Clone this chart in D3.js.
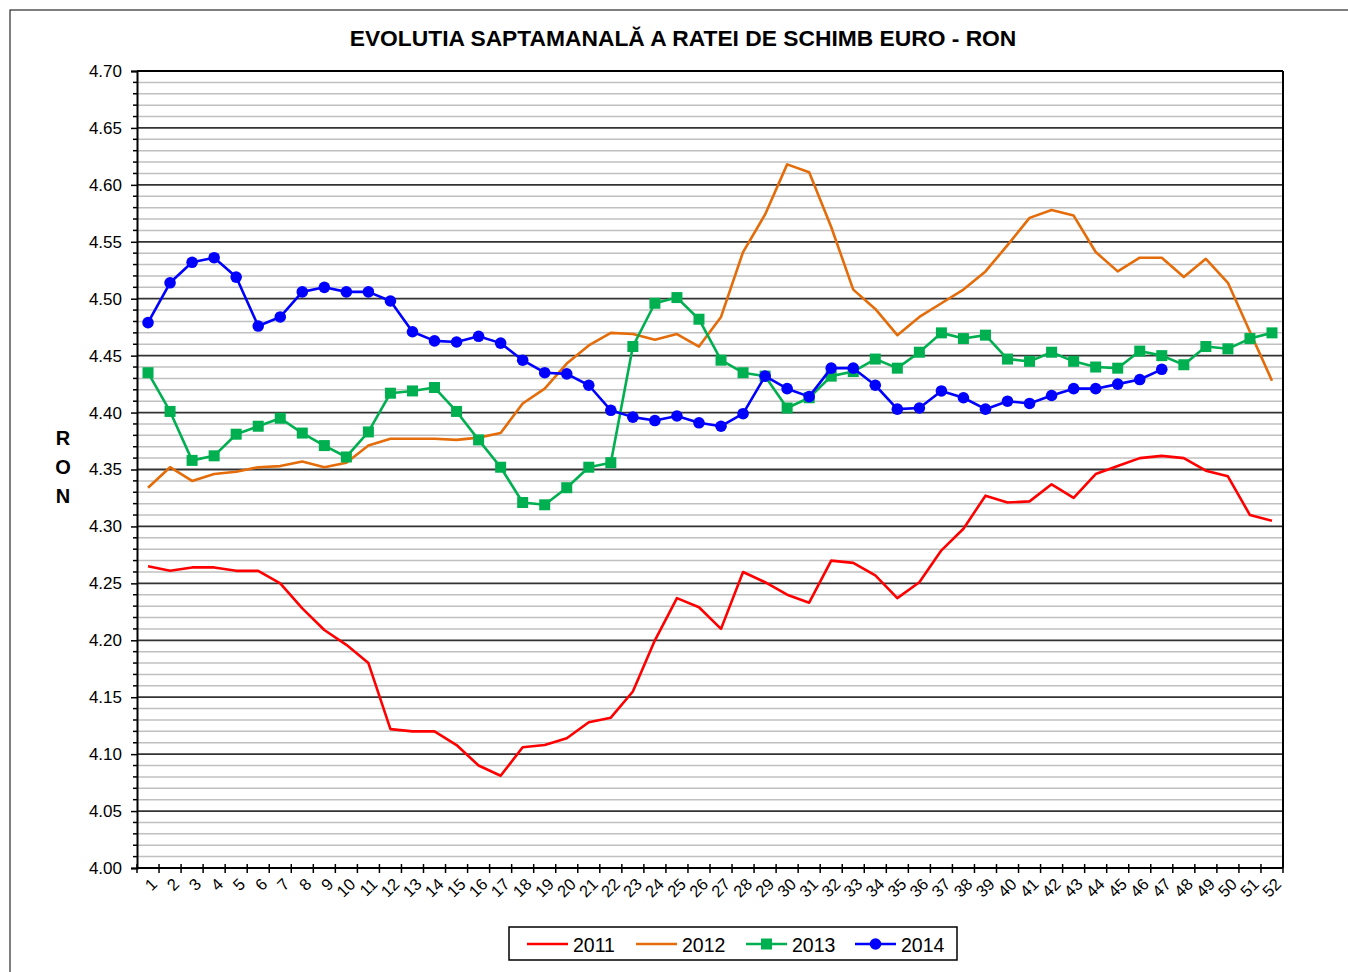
<!DOCTYPE html>
<html>
<head>
<meta charset="utf-8">
<title>Evolutia saptamanala EUR-RON</title>
<script src="https://d3js.org/d3.v7.min.js"></script>
<style>
  body { margin: 0; background: #fff; }
  text { font-family: "Liberation Sans", Arial, sans-serif; }
</style>
</head>
<body>
<svg width="1348" height="972"></svg>
<script>
// weeks 1..52
const weeks = d3.range(1, 53);

const y2011 = [4.265, 4.261, 4.264, 4.264, 4.261, 4.261, 4.250, 4.228, 4.209, 4.196,
  4.180, 4.122, 4.120, 4.120, 4.108, 4.090, 4.081, 4.106, 4.108, 4.114,
  4.128, 4.132, 4.155, 4.200, 4.237, 4.229, 4.210, 4.260, 4.251, 4.240,
  4.233, 4.270, 4.268, 4.257, 4.237, 4.251, 4.279, 4.298, 4.327, 4.321,
  4.322, 4.337, 4.325, 4.346, 4.353, 4.360, 4.362, 4.360, 4.349, 4.344,
  4.310, 4.305];

const y2012 = [4.334, 4.352, 4.340, 4.346, 4.348, 4.352, 4.353, 4.357, 4.352, 4.356,
  4.371, 4.377, 4.377, 4.377, 4.376, 4.378, 4.382, 4.408, 4.421, 4.443,
  4.459, 4.470, 4.469, 4.464, 4.469, 4.458, 4.484, 4.541, 4.574, 4.618,
  4.611, 4.563, 4.508, 4.491, 4.468, 4.484, 4.496, 4.508, 4.524, 4.547,
  4.571, 4.578, 4.573, 4.541, 4.524, 4.536, 4.536, 4.519, 4.535, 4.514,
  4.471, 4.428];

const y2013 = [4.435, 4.401, 4.358, 4.362, 4.381, 4.388, 4.395, 4.382, 4.371, 4.361,
  4.383, 4.417, 4.419, 4.422, 4.401, 4.376, 4.352, 4.321, 4.319, 4.334,
  4.352, 4.356, 4.458, 4.496, 4.501, 4.482, 4.446, 4.435, 4.432, 4.404,
  4.413, 4.432, 4.436, 4.447, 4.439, 4.453, 4.470, 4.465, 4.468, 4.447,
  4.445, 4.453, 4.445, 4.440, 4.439, 4.454, 4.450, 4.442, 4.458, 4.456,
  4.465, 4.470];

const y2014 = [4.479, 4.514, 4.532, 4.536, 4.519, 4.476, 4.484, 4.506, 4.510, 4.506,
  4.506, 4.498, 4.471, 4.463, 4.462, 4.467, 4.461, 4.446, 4.435, 4.434,
  4.424, 4.402, 4.396, 4.393, 4.397, 4.391, 4.388, 4.399, 4.432, 4.421,
  4.414, 4.439, 4.439, 4.424, 4.403, 4.404, 4.419, 4.413, 4.403, 4.410,
  4.408, 4.415, 4.421, 4.421, 4.425, 4.429, 4.438];

const yTicks = d3.range(0, 15).map(i => +(4 + i * 0.05).toFixed(2));

const series = [
  { name: "2011", values: y2011, color: "#ff0000", marker: null },
  { name: "2012", values: y2012, color: "#e46c0a", marker: null },
  { name: "2013", values: y2013, color: "#00b050", marker: "square" },
  { name: "2014", values: y2014, color: "#0000ff", marker: "circle" }
];

const svg = d3.select("svg");
const plotL = 137, plotR = 1283, plotT = 71, plotB = 868;

// outer chart border
svg.append("rect")
  .attr("x", 10).attr("y", 10).attr("width", 1400).attr("height", 1000)
  .attr("fill", "none").attr("stroke", "#000").attr("stroke-width", 1);

const x = d3.scaleBand().domain(weeks).range([plotL, plotR]);
const y = d3.scaleLinear().domain([4.0, 4.7]).range([plotB, plotT]);

// minor gridlines every 0.01
const minor = d3.range(1, 70).filter(i => i % 5 !== 0).map(i => 4 + i * 0.01);
svg.append("g").selectAll("line").data(minor).join("line")
  .attr("x1", plotL).attr("x2", plotR)
  .attr("y1", d => y(d)).attr("y2", d => y(d))
  .attr("stroke", "#c0c0c0").attr("stroke-width", 1.5);

// minor ticks on the y axis
svg.append("g").selectAll("line").data(minor).join("line")
  .attr("x1", plotL - 4).attr("x2", plotL)
  .attr("y1", d => y(d)).attr("y2", d => y(d))
  .attr("stroke", "#000").attr("stroke-width", 1.5);

// major gridlines
svg.append("g").selectAll("line").data(yTicks.slice(1)).join("line")
  .attr("x1", plotL).attr("x2", plotR)
  .attr("y1", d => y(d)).attr("y2", d => y(d))
  .attr("stroke", "#333").attr("stroke-width", 1.8);

// y axis
const yAxis = svg.append("g")
  .attr("transform", `translate(${plotL},0)`)
  .call(d3.axisLeft(y).tickValues(yTicks).tickFormat(d3.format(".2f")).tickSize(6).tickPadding(9));
yAxis.select(".domain").attr("stroke", "#000").attr("stroke-width", 2);
yAxis.selectAll(".tick line").attr("stroke", "#000").attr("stroke-width", 1.5);
yAxis.selectAll(".tick text").attr("font-size", 17).attr("fill", "#000")
  .attr("font-family", "Liberation Sans, Arial, sans-serif");

// plot frame top/right
svg.append("line").attr("x1", plotL).attr("x2", plotR).attr("y1", plotT).attr("y2", plotT)
  .attr("stroke", "#000").attr("stroke-width", 2);
svg.append("line").attr("x1", plotR).attr("x2", plotR).attr("y1", plotT).attr("y2", plotB)
  .attr("stroke", "#000").attr("stroke-width", 2);

// x axis
svg.append("line").attr("x1", plotL).attr("x2", plotR).attr("y1", plotB).attr("y2", plotB)
  .attr("stroke", "#000").attr("stroke-width", 2);
const bounds = weeks.map(w => x(w)).concat([plotR]);
svg.append("g").selectAll("line").data(bounds).join("line")
  .attr("x1", d => d).attr("x2", d => d)
  .attr("y1", plotB - 4).attr("y2", plotB + 5)
  .attr("stroke", "#000").attr("stroke-width", 1.5);
svg.append("g").selectAll("text").data(weeks).join("text")
  .attr("transform", d => `translate(${x(d) + x.bandwidth() / 2 + 2},${plotB + 9}) rotate(-45)`)
  .attr("text-anchor", "end")
  .attr("dy", "0.7em")
  .attr("font-size", 16.5)
  .text(d => d);

// lines
const line = d3.line()
  .x((d, i) => x(weeks[i]) + x.bandwidth() / 2)
  .y(d => y(d));

series.forEach(s => {
  svg.append("path")
    .datum(s.values)
    .attr("d", line)
    .attr("fill", "none")
    .attr("stroke", s.color)
    .attr("stroke-width", 2.6)
    .attr("stroke-linejoin", "round");

  if (s.marker === "square") {
    svg.append("g").selectAll("rect").data(s.values).join("rect")
      .attr("x", (d, i) => x(weeks[i]) + x.bandwidth() / 2 - 5.5)
      .attr("y", d => y(d) - 5.5)
      .attr("width", 11).attr("height", 11)
      .attr("fill", s.color);
  } else if (s.marker === "circle") {
    svg.append("g").selectAll("circle").data(s.values).join("circle")
      .attr("cx", (d, i) => x(weeks[i]) + x.bandwidth() / 2)
      .attr("cy", d => y(d))
      .attr("r", 5.8)
      .attr("fill", s.color);
  }
});

// title
svg.append("text")
  .attr("x", 683).attr("y", 46)
  .attr("text-anchor", "middle")
  .attr("font-size", 22.8).attr("font-weight", "bold")
  .text("EVOLUTIA SAPTAMANALĂ A RATEI DE SCHIMB EURO - RON");

// y axis title, stacked letters
["R", "O", "N"].forEach((c, i) => {
  svg.append("text")
    .attr("x", 63).attr("y", 445 + i * 29)
    .attr("text-anchor", "middle")
    .attr("font-size", 20).attr("font-weight", "bold")
    .text(c);
});

// legend
const lg = svg.append("g");
lg.append("rect").attr("x", 509).attr("y", 927).attr("width", 448).attr("height", 33)
  .attr("fill", "#fff").attr("stroke", "#000").attr("stroke-width", 1.5);
const legendX = [527, 636, 746, 855];
series.forEach((s, i) => {
  const lx = legendX[i], ly = 944;
  lg.append("line").attr("x1", lx).attr("x2", lx + 41).attr("y1", ly).attr("y2", ly)
    .attr("stroke", s.color).attr("stroke-width", 2.6);
  if (s.marker === "square") {
    lg.append("rect").attr("x", lx + 20.5 - 5.5).attr("y", ly - 5.5)
      .attr("width", 11).attr("height", 11).attr("fill", s.color);
  } else if (s.marker === "circle") {
    lg.append("circle").attr("cx", lx + 20.5).attr("cy", ly).attr("r", 5.8).attr("fill", s.color);
  }
  lg.append("text").attr("x", lx + 46).attr("y", ly + 8)
    .attr("font-size", 19.5).text(s.name);
});
</script>
</body>
</html>
